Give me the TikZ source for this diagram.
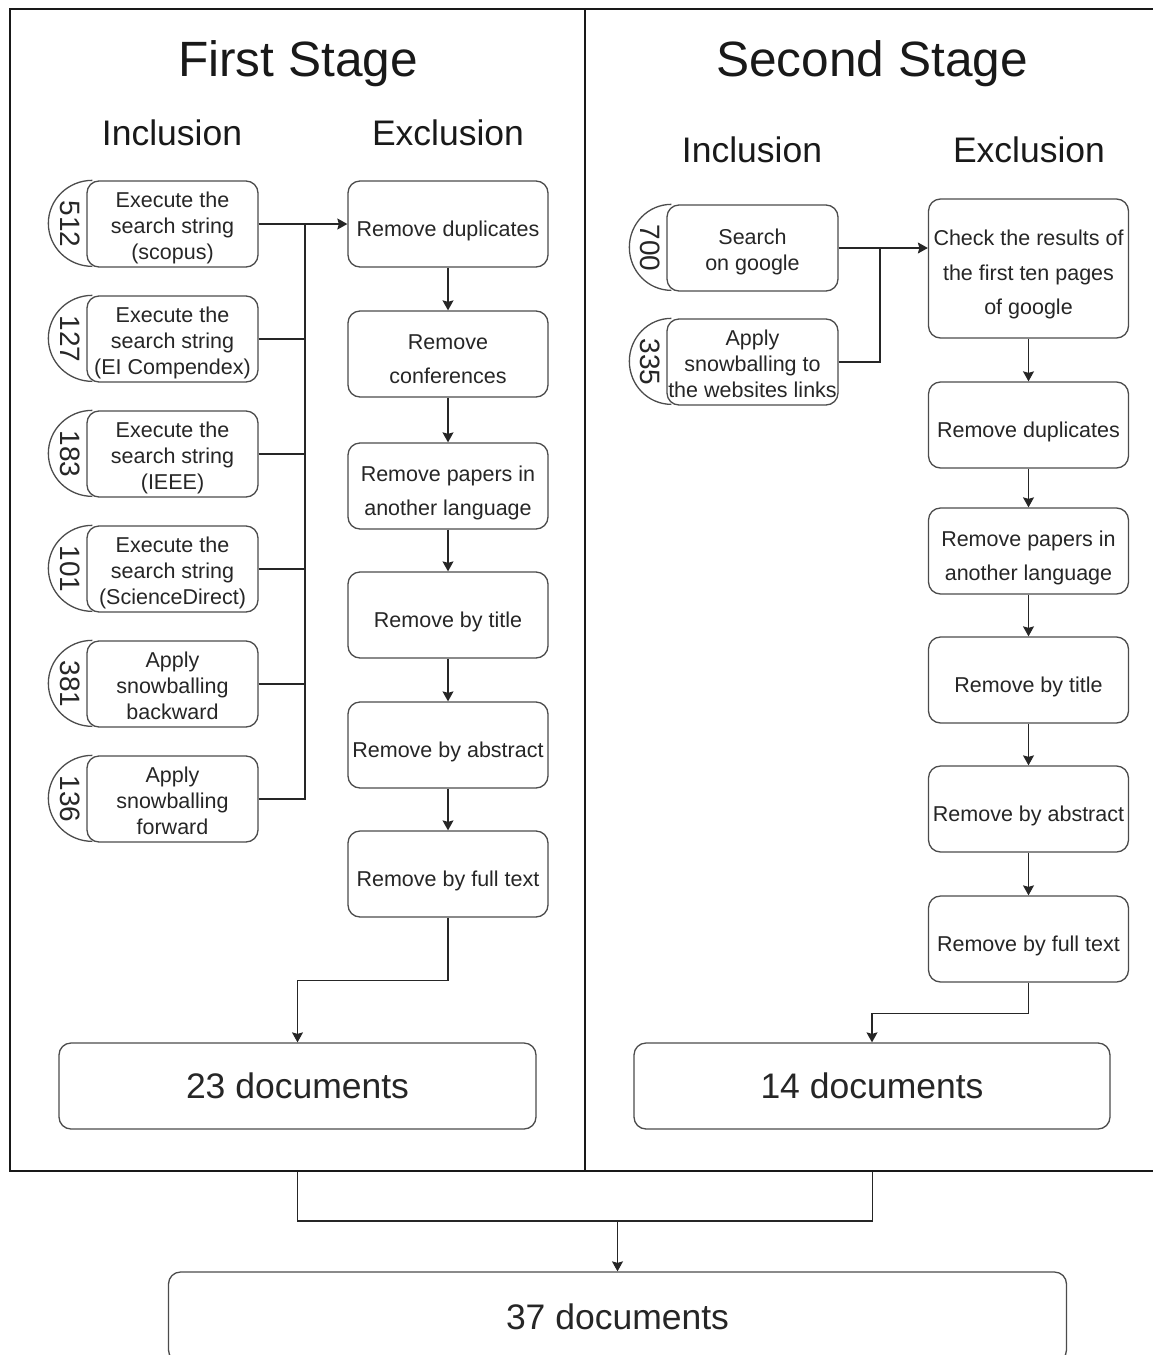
\documentclass[tikz,border=0pt]{standalone}
\usepackage{fontspec}
\setmainfont{Liberation Sans}
\usetikzlibrary{arrows.meta}
\begin{document}
\begin{tikzpicture}[x=1pt,y=1pt,
 box/.style={draw=black!70, line width=1.3pt, rounded corners=12pt, inner sep=0pt, align=center, text=black!85},
 th/.style={text height=#1, text depth=4.6pt},
 incl/.style={box, th=76pt, minimum width=171pt, minimum height=86pt, font=\fontsize{21.5}{26}\selectfont},
 excl/.style={box, th=29pt, minimum width=200pt, minimum height=86pt, font=\fontsize{21.5}{34.5}\selectfont},
 docs/.style={box, minimum height=86pt, font=\fontsize{35.5}{40}\selectfont},
 hdr/.style={anchor=base, font=\fontsize{35.5}{40}\selectfont, text=black!90},
 ttl/.style={anchor=base, font=\fontsize{49.6}{56}\selectfont, text=black!90},
 num/.style={rotate=-90, font=\fontsize{28}{30}\selectfont, text=black!85, inner sep=0pt},
 halfdisc/.style={draw=black!70, line width=1.3pt},
 conn/.style={draw=black!85, line width=1.3pt},
 arr/.style={conn, -{Stealth[length=10pt,width=11pt,inset=1.5pt]}},
 stageframe/.style={draw=black!90, line width=1.5pt, inner sep=0pt, minimum width=575pt, minimum height=1162pt}]
\useasboundingbox (0,0) rectangle (1153,-1355);
\clip (0,0) rectangle (1153,-1355);
\fill[white] (0,0) rectangle (1153,-1355);

% stage frames
\node[stageframe] (stage1) at (297.5,-590) {};
\node[stageframe] (stage2) at (872.5,-590) {};

% titles and headers
\node[ttl] (t1) at (298,-76) {First Stage};
\node[ttl] (t2) at (872,-76) {Second Stage};
\node[hdr] (h1) at (172,-145) {Inclusion};
\node[hdr] (h2) at (448,-145) {Exclusion};
\node[hdr] (h3) at (752,-162) {Inclusion};
\node[hdr] (h4) at (1029,-162) {Exclusion};

% left inclusion
\node[incl] (li1) at (172.5,-224) {Execute the\\search string\\(scopus)};
\node[incl] (li2) at (172.5,-339) {Execute the\\search string\\(EI Compendex)};
\node[incl] (li3) at (172.5,-454) {Execute the\\search string\\(IEEE)};
\node[incl] (li4) at (172.5,-569) {Execute the\\search string\\(ScienceDirect)};
\node[incl] (li5) at (172.5,-684) {Apply\\snowballing\\backward};
\node[incl] (li6) at (172.5,-799) {Apply\\snowballing\\forward};
\foreach \n/\v in {li1/512,li2/127,li3/183,li4/101,li5/381,li6/136}{
  \draw[halfdisc] ([xshift=6pt]\n.north west) arc[start angle=90, end angle=270, x radius=44pt, y radius=43pt];
  \node[num] (\n num) at ([xshift=-16pt]\n.west) {\v};
}

% left exclusion
\node[excl] (le1) at (448,-224) {Remove duplicates};
\node[excl, th=64pt] (le2) at (448,-354) {Remove\\conferences};
\node[excl, th=64pt] (le3) at (448,-486) {Remove papers in\\another language};
\node[excl] (le4) at (448,-615) {Remove by title};
\node[excl] (le5) at (448,-745) {Remove by abstract};
\node[excl] (le6) at (448,-874) {Remove by full text};

% right inclusion
\node[incl, th=49pt] (ri1) at (752.5,-248) {Search\\on google};
\node[incl] (ri2) at (752.5,-362) {Apply\\snowballing to\\the websites links};
\foreach \n/\v in {ri1/700,ri2/335}{
  \draw[halfdisc] ([xshift=5pt]\n.north west) arc[start angle=90, end angle=270, x radius=42pt, y radius=43pt];
  \node[num] (\n num) at ([xshift=-16pt]\n.west) {\v};
}

% right exclusion
\node[excl, th=97pt, minimum height=139pt] (re1) at (1028.5,-268.5) {Check the results of\\the first ten pages\\of google};
\node[excl] (re2) at (1028.5,-425) {Remove duplicates};
\node[excl, th=64pt] (re3) at (1028.5,-551) {Remove papers in\\another language};
\node[excl] (re4) at (1028.5,-680) {Remove by title};
\node[excl] (re5) at (1028.5,-809) {Remove by abstract};
\node[excl] (re6) at (1028.5,-939) {Remove by full text};

% documents
\node[docs, minimum width=477pt] (d23) at (297.5,-1086) {23 documents};
\node[docs, minimum width=476pt] (d14) at (872,-1086) {14 documents};
\node[docs, minimum width=898pt, minimum height=90pt] (d37) at (617.5,-1317) {37 documents};

% left connectors
\coordinate (busL) at (305,-224);
\draw[arr] (li1.east) -- (le1.west);
\foreach \n in {li2,li3,li4,li5,li6}{ \draw[conn] (\n.east) -| (busL); }
\draw[arr] (le1) -- (le2);
\draw[arr] (le2) -- (le3);
\draw[arr] (le3) -- (le4);
\draw[arr] (le4) -- (le5);
\draw[arr] (le5) -- (le6);
\draw[arr] (le6.south) -- ++(0,-63) -| (d23.north);

% right connectors
\coordinate (busR) at (880,-248);
\draw[arr] (ri1.east) -- (re1.west |- ri1.east);
\draw[conn] (ri2.east) -| (busR);
\draw[arr] (re1) -- (re2);
\draw[arr] (re2) -- (re3);
\draw[arr] (re3) -- (re4);
\draw[arr] (re4) -- (re5);
\draw[arr] (re5) -- (re6);
\draw[arr] (re6.south) -- ++(0,-31) -| (d14.north);

% bottom join
\coordinate (join) at (617.5,-1221);
\draw[conn] (stage1.south) |- (join) -| (stage2.south);
\draw[arr] (join) -- (d37.north);
\end{tikzpicture}
\end{document}
